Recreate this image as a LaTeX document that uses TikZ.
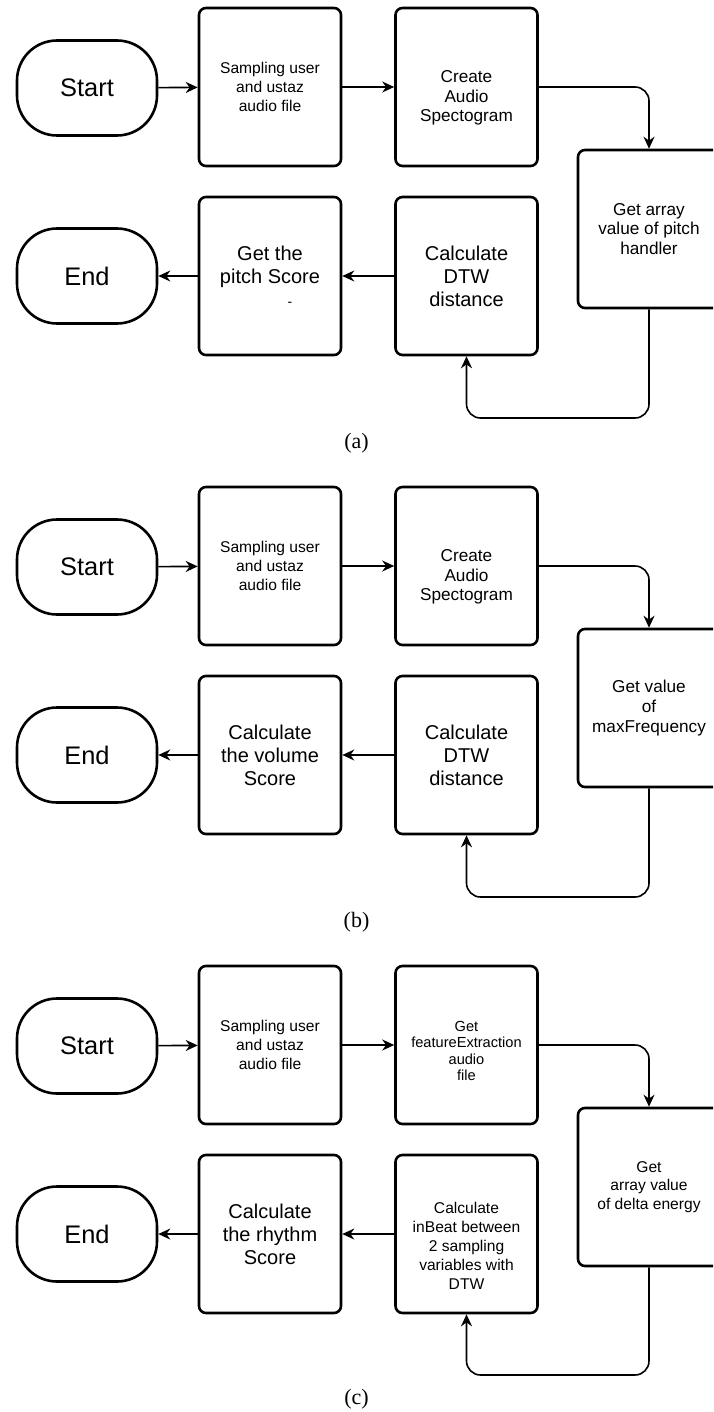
\documentclass[tikz,border=0pt]{standalone}
\usepackage{fontspec}
\setmainfont{Liberation Sans}
\newfontfamily\capfont{Liberation Serif}
\usetikzlibrary{arrows.meta}

% pushes the text of a box down a little
\newcommand\droptext[1]{\rule{0pt}{#1}}

\tikzset{
    term/.style={draw, line width=1.3pt, rounded corners=20pt, minimum width=70pt,
        minimum height=47.5pt, inner sep=0pt, font=\fontsize{12.7}{15}\selectfont},
    proc/.style={draw, line width=1.3pt, rounded corners=3.5pt, minimum width=71pt,
        minimum height=79pt, inner sep=1pt, align=center},
    ftA/.style={font=\fontsize{7.3}{8.3}\selectfont},
    ftB/.style={font=\fontsize{7.8}{9.4}\selectfont},
    ftC/.style={font=\fontsize{8.6}{9.8}\selectfont},
    ftD/.style={font=\fontsize{10}{11.5}\selectfont},
    link/.style={line width=0.8pt, -{Stealth[length=6pt,width=5.5pt]}},
    subcap/.style={font=\capfont\fontsize{11}{13}\selectfont}
}

\begin{document}
\begin{tikzpicture}[x=0.5pt,y=-0.5pt]
    \clip (0,0) rectangle (713,1412);

    % (a) pitch
    \node[term] (startA) at (87,88) {Start};
    \node[proc,ftB] (sampA) at (270,87) {Sampling user\\and ustaz\\audio file};
    \node[proc,ftC] (specA) at (466.5,87) {\droptext{17pt}Create\\Audio\\Spectogram};
    \node[proc,ftC] (getA) at (649,229) {Get array\\value of pitch\\handler};
    \node[proc,ftD] (dtwA) at (466.5,276) {Calculate\\DTW\\distance};
    \node[proc,ftD] (scoreA) at (270,276) {Get the\\pitch Score\\\hspace*{20pt}{\fontsize{7}{7}\selectfont -}};
    \node[term] (endA) at (87,276) {End};
    \coordinate (loopA) at (466.5,418);
    \draw[link] (startA) -- (sampA);
    \draw[link] (sampA) -- (specA);
    \draw[link,rounded corners=7pt] (specA.east) -| (getA.north);
    \draw[link,rounded corners=7pt] (getA.south) |- (loopA) -- (dtwA.south);
    \draw[link] (dtwA) -- (scoreA);
    \draw[link] (scoreA) -- (endA);
    \node[subcap] (capA) at (356.5,443) {(a)};

    % (b) volume
    \node[term] (startB) at (87,567) {Start};
    \node[proc,ftB] (sampB) at (270,566) {Sampling user\\and ustaz\\audio file};
    \node[proc,ftC] (specB) at (466.5,566) {\droptext{17pt}Create\\Audio\\Spectogram};
    \node[proc,ftC] (getB) at (649,708) {Get value\\of\\maxFrequency};
    \node[proc,ftD] (dtwB) at (466.5,755) {Calculate\\DTW\\distance};
    \node[proc,ftD] (scoreB) at (270,755) {Calculate\\the volume\\Score};
    \node[term] (endB) at (87,755) {End};
    \coordinate (loopB) at (466.5,897);
    \draw[link] (startB) -- (sampB);
    \draw[link] (sampB) -- (specB);
    \draw[link,rounded corners=7pt] (specB.east) -| (getB.north);
    \draw[link,rounded corners=7pt] (getB.south) |- (loopB) -- (dtwB.south);
    \draw[link] (dtwB) -- (scoreB);
    \draw[link] (scoreB) -- (endB);
    \node[subcap] (capB) at (356.5,922) {(b)};

    % (c) rhythm
    \node[term] (startC) at (87,1046) {Start};
    \node[proc,ftB] (sampC) at (270,1045) {Sampling user\\and ustaz\\audio file};
    \node[proc,ftA] (featC) at (466.5,1045) {\droptext{11pt}Get\\featureExtraction\\audio\\file};
    \node[proc,ftB] (getC) at (649,1187) {Get\\array value\\of delta energy};
    \node[proc,ftB] (dtwC) at (466.5,1234) {\droptext{17.5pt}Calculate\\inBeat between\\2 sampling\\variables with\\DTW};
    \node[proc,ftD] (scoreC) at (270,1234) {Calculate\\the rhythm\\Score};
    \node[term] (endC) at (87,1234) {End};
    \coordinate (loopC) at (466.5,1375);
    \draw[link] (startC) -- (sampC);
    \draw[link] (sampC) -- (featC);
    \draw[link,rounded corners=7pt] (featC.east) -| (getC.north);
    \draw[link,rounded corners=7pt] (getC.south) |- (loopC) -- (dtwC.south);
    \draw[link] (dtwC) -- (scoreC);
    \draw[link] (scoreC) -- (endC);
    \node[subcap] (capC) at (356.5,1399) {(c)};
\end{tikzpicture}
\end{document}
